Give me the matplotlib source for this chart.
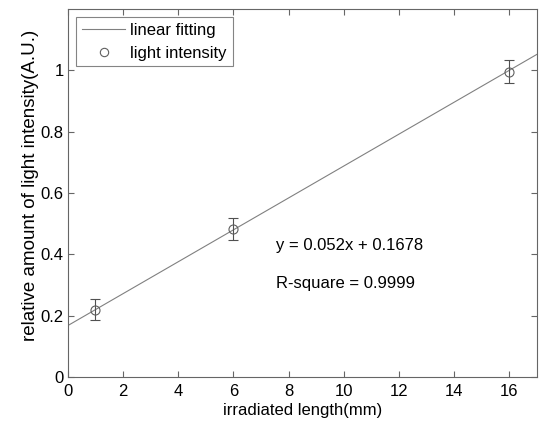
import numpy as np
import matplotlib
matplotlib.use('Agg')
import matplotlib.pyplot as plt
from matplotlib.lines import Line2D

plt.rcParams['font.family'] = ['Liberation Sans', 'DejaVu Sans']

# measured points with error bars
length_mm = [1, 6, 16]
intensity = [0.22, 0.482, 0.995]
intensity_err = [0.034, 0.035, 0.037]

# linear fitting result
slope = 0.052
intercept = 0.1678
r_square = 0.9999

fig = plt.figure(figsize=(5.39, 4.26), dpi=100)
ax = fig.add_axes([0.126, 0.115, 0.87, 0.864])

x_fit = np.array([0, 17])
ax.plot(x_fit, slope * x_fit + intercept, color='#808080', lw=0.8)
ax.errorbar(length_mm, intensity, yerr=intensity_err, fmt='o', ms=6.5,
            mfc='none', mec='#606060', mew=0.8, ecolor='#505050', elinewidth=0.8,
            capsize=3.3, capthick=0.8)

ax.text(7.55, 0.43, 'y = %.3fx + %.4f' % (slope, intercept), fontsize=12, va='center')
ax.text(7.55, 0.306, 'R-square = %.4f' % r_square, fontsize=12, va='center')

ax.set_xlim(0, 17)
ax.set_ylim(0, 1.2)
ax.set_xticks(range(0, 17, 2))
ax.set_yticks([0, 0.2, 0.4, 0.6, 0.8, 1])
ax.set_yticklabels(['0', '0.2', '0.4', '0.6', '0.8', '1'])
ax.tick_params(direction='in', top=True, right=True, labelsize=12, color='#666666',
               length=4)
ax.tick_params(axis='x', pad=5)
ax.tick_params(axis='y', pad=3)
for s in ax.spines.values():
    s.set_color('#666666')
ax.set_xlabel('irradiated length(mm)', fontsize=12, labelpad=3)
ax.set_ylabel('relative amount of light intensity(A.U.)', fontsize=13.5)
ax.yaxis.set_label_coords(-0.062, 0.52)

handles = [Line2D([], [], color='#808080', lw=0.8),
           Line2D([], [], ls='none', marker='o', ms=6, mfc='none', mec='#606060', mew=0.8)]
leg = ax.legend(handles, ['linear fitting', 'light intensity'], loc='upper left',
                fontsize=12, frameon=True, fancybox=False, edgecolor='#666666',
                handlelength=2.6, handletextpad=0.3, borderaxespad=0.5,
                labelspacing=0.45, borderpad=0.35)
leg.get_frame().set_linewidth(0.8)

fig.savefig('out.png', dpi=100)
